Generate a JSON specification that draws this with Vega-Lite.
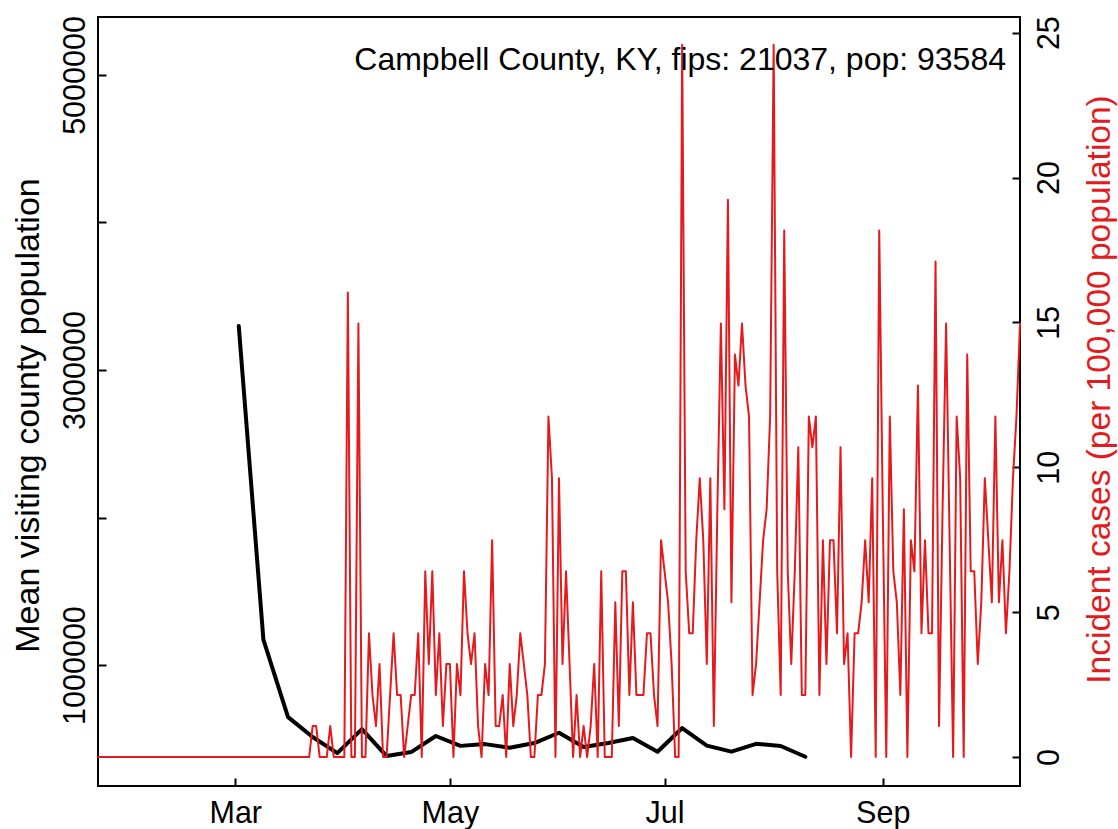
{
"$schema": "https://vega.github.io/schema/vega-lite/v6.json",
"width": 922, "height": 769,
"autosize": "none",
"padding": {"left": 98, "top": 17, "right": 98, "bottom": 43},
"background": "white",
"config": {"view": {"stroke": "black", "strokeWidth": 2}, "font": "Liberation Sans"},
"title": {"text": "Campbell County, KY, fips: 21037, pop: 93584", "orient": "top", "anchor": "end", "frame": "group",
 "offset": 0, "baseline": "alphabetic", "dx": -14, "dy": 86, "font": "Liberation Sans", "fontSize": 32, "fontWeight": "normal", "color": "black"},
"datasets": {
"mobility": [
{"date":"2020-03-02","mvp":3298000},{"date":"2020-03-09","mvp":1172000},{"date":"2020-03-16","mvp":647000},{"date":"2020-03-23","mvp":512000},
{"date":"2020-03-30","mvp":403000},{"date":"2020-04-06","mvp":566000},{"date":"2020-04-13","mvp":383000},{"date":"2020-04-20","mvp":410000},
{"date":"2020-04-27","mvp":519000},{"date":"2020-05-04","mvp":452000},{"date":"2020-05-11","mvp":464000},{"date":"2020-05-18","mvp":439000},
{"date":"2020-05-25","mvp":471000},{"date":"2020-06-01","mvp":541000},{"date":"2020-06-08","mvp":444000},{"date":"2020-06-15","mvp":471000},
{"date":"2020-06-22","mvp":505000},{"date":"2020-06-29","mvp":412000},{"date":"2020-07-06","mvp":573000},{"date":"2020-07-13","mvp":454000},
{"date":"2020-07-20","mvp":413000},{"date":"2020-07-27","mvp":466000},{"date":"2020-08-03","mvp":451000},{"date":"2020-08-10","mvp":378000}
],
"cases": [
{"date":"2020-01-22","inc":0},{"date":"2020-01-23","inc":0},{"date":"2020-01-24","inc":0},{"date":"2020-01-25","inc":0},{"date":"2020-01-26","inc":0},
{"date":"2020-01-27","inc":0},{"date":"2020-01-28","inc":0},{"date":"2020-01-29","inc":0},{"date":"2020-01-30","inc":0},{"date":"2020-01-31","inc":0},
{"date":"2020-02-01","inc":0},{"date":"2020-02-02","inc":0},{"date":"2020-02-03","inc":0},{"date":"2020-02-04","inc":0},{"date":"2020-02-05","inc":0},
{"date":"2020-02-06","inc":0},{"date":"2020-02-07","inc":0},{"date":"2020-02-08","inc":0},{"date":"2020-02-09","inc":0},{"date":"2020-02-10","inc":0},
{"date":"2020-02-11","inc":0},{"date":"2020-02-12","inc":0},{"date":"2020-02-13","inc":0},{"date":"2020-02-14","inc":0},{"date":"2020-02-15","inc":0},
{"date":"2020-02-16","inc":0},{"date":"2020-02-17","inc":0},{"date":"2020-02-18","inc":0},{"date":"2020-02-19","inc":0},{"date":"2020-02-20","inc":0},
{"date":"2020-02-21","inc":0},{"date":"2020-02-22","inc":0},{"date":"2020-02-23","inc":0},{"date":"2020-02-24","inc":0},{"date":"2020-02-25","inc":0},
{"date":"2020-02-26","inc":0},{"date":"2020-02-27","inc":0},{"date":"2020-02-28","inc":0},{"date":"2020-02-29","inc":0},
{"date":"2020-03-01","inc":0},{"date":"2020-03-02","inc":0},{"date":"2020-03-03","inc":0},{"date":"2020-03-04","inc":0},{"date":"2020-03-05","inc":0},
{"date":"2020-03-06","inc":0},{"date":"2020-03-07","inc":0},{"date":"2020-03-08","inc":0},{"date":"2020-03-09","inc":0},{"date":"2020-03-10","inc":0},
{"date":"2020-03-11","inc":0},{"date":"2020-03-12","inc":0},{"date":"2020-03-13","inc":0},{"date":"2020-03-14","inc":0},{"date":"2020-03-15","inc":0},
{"date":"2020-03-16","inc":0},{"date":"2020-03-17","inc":0},{"date":"2020-03-18","inc":0},{"date":"2020-03-19","inc":0},{"date":"2020-03-20","inc":0},
{"date":"2020-03-21","inc":0},{"date":"2020-03-22","inc":0},{"date":"2020-03-23","inc":1.07},{"date":"2020-03-24","inc":1.07},{"date":"2020-03-25","inc":0},
{"date":"2020-03-26","inc":0},{"date":"2020-03-27","inc":0},{"date":"2020-03-28","inc":1.07},{"date":"2020-03-29","inc":0},{"date":"2020-03-30","inc":0},
{"date":"2020-03-31","inc":0},
{"date":"2020-04-01","inc":0},{"date":"2020-04-02","inc":16.03},{"date":"2020-04-03","inc":0},{"date":"2020-04-04","inc":0},{"date":"2020-04-05","inc":14.96},
{"date":"2020-04-06","inc":0},{"date":"2020-04-07","inc":0},{"date":"2020-04-08","inc":4.27},{"date":"2020-04-09","inc":2.14},{"date":"2020-04-10","inc":1.07},
{"date":"2020-04-11","inc":3.21},{"date":"2020-04-12","inc":0},{"date":"2020-04-13","inc":0},{"date":"2020-04-14","inc":2.14},{"date":"2020-04-15","inc":4.27},
{"date":"2020-04-16","inc":2.14},{"date":"2020-04-17","inc":2.14},{"date":"2020-04-18","inc":0},{"date":"2020-04-19","inc":1.07},{"date":"2020-04-20","inc":2.14},
{"date":"2020-04-21","inc":2.14},{"date":"2020-04-22","inc":4.27},{"date":"2020-04-23","inc":0},{"date":"2020-04-24","inc":6.41},{"date":"2020-04-25","inc":3.21},
{"date":"2020-04-26","inc":6.41},{"date":"2020-04-27","inc":2.14},{"date":"2020-04-28","inc":4.27},{"date":"2020-04-29","inc":1.07},{"date":"2020-04-30","inc":3.21},
{"date":"2020-05-01","inc":3.21},{"date":"2020-05-02","inc":0},{"date":"2020-05-03","inc":3.21},{"date":"2020-05-04","inc":2.14},{"date":"2020-05-05","inc":6.41},
{"date":"2020-05-06","inc":4.27},{"date":"2020-05-07","inc":3.21},{"date":"2020-05-08","inc":4.27},{"date":"2020-05-09","inc":1.07},{"date":"2020-05-10","inc":0},
{"date":"2020-05-11","inc":3.21},{"date":"2020-05-12","inc":2.14},{"date":"2020-05-13","inc":7.48},{"date":"2020-05-14","inc":1.07},{"date":"2020-05-15","inc":1.07},
{"date":"2020-05-16","inc":2.14},{"date":"2020-05-17","inc":0},{"date":"2020-05-18","inc":3.21},{"date":"2020-05-19","inc":1.07},{"date":"2020-05-20","inc":2.14},
{"date":"2020-05-21","inc":4.27},{"date":"2020-05-22","inc":3.21},{"date":"2020-05-23","inc":2.14},{"date":"2020-05-24","inc":0},{"date":"2020-05-25","inc":0},
{"date":"2020-05-26","inc":2.14},{"date":"2020-05-27","inc":2.14},{"date":"2020-05-28","inc":3.21},{"date":"2020-05-29","inc":11.75},{"date":"2020-05-30","inc":9.62},
{"date":"2020-05-31","inc":0},
{"date":"2020-06-01","inc":9.62},{"date":"2020-06-02","inc":3.21},{"date":"2020-06-03","inc":6.41},{"date":"2020-06-04","inc":3.21},{"date":"2020-06-05","inc":0},
{"date":"2020-06-06","inc":2.14},{"date":"2020-06-07","inc":0},{"date":"2020-06-08","inc":1.07},{"date":"2020-06-09","inc":0},{"date":"2020-06-10","inc":1.07},
{"date":"2020-06-11","inc":3.21},{"date":"2020-06-12","inc":0},{"date":"2020-06-13","inc":6.41},{"date":"2020-06-14","inc":0},{"date":"2020-06-15","inc":0},
{"date":"2020-06-16","inc":0},{"date":"2020-06-17","inc":5.34},{"date":"2020-06-18","inc":1.07},{"date":"2020-06-19","inc":6.41},{"date":"2020-06-20","inc":6.41},
{"date":"2020-06-21","inc":2.14},{"date":"2020-06-22","inc":5.34},{"date":"2020-06-23","inc":2.14},{"date":"2020-06-24","inc":2.14},{"date":"2020-06-25","inc":2.14},
{"date":"2020-06-26","inc":4.27},{"date":"2020-06-27","inc":4.27},{"date":"2020-06-28","inc":2.14},{"date":"2020-06-29","inc":1.07},{"date":"2020-06-30","inc":7.48},
{"date":"2020-07-01","inc":6.41},{"date":"2020-07-02","inc":5.34},{"date":"2020-07-03","inc":3.21},{"date":"2020-07-04","inc":0},{"date":"2020-07-05","inc":0},
{"date":"2020-07-06","inc":24.58},{"date":"2020-07-07","inc":6.41},{"date":"2020-07-08","inc":4.27},{"date":"2020-07-09","inc":4.27},{"date":"2020-07-10","inc":7.48},
{"date":"2020-07-11","inc":9.62},{"date":"2020-07-12","inc":7.48},{"date":"2020-07-13","inc":3.21},{"date":"2020-07-14","inc":9.62},{"date":"2020-07-15","inc":1.07},
{"date":"2020-07-16","inc":8.55},{"date":"2020-07-17","inc":14.96},{"date":"2020-07-18","inc":8.55},{"date":"2020-07-19","inc":19.23},{"date":"2020-07-20","inc":5.34},
{"date":"2020-07-21","inc":13.89},{"date":"2020-07-22","inc":12.82},{"date":"2020-07-23","inc":14.96},{"date":"2020-07-24","inc":12.82},{"date":"2020-07-25","inc":11.75},
{"date":"2020-07-26","inc":2.14},{"date":"2020-07-27","inc":3.21},{"date":"2020-07-28","inc":5.34},{"date":"2020-07-29","inc":7.48},{"date":"2020-07-30","inc":8.55},
{"date":"2020-07-31","inc":11.75},
{"date":"2020-08-01","inc":24.58},{"date":"2020-08-02","inc":6.41},{"date":"2020-08-03","inc":2.14},{"date":"2020-08-04","inc":18.17},{"date":"2020-08-05","inc":6.41},
{"date":"2020-08-06","inc":3.21},{"date":"2020-08-07","inc":6.41},{"date":"2020-08-08","inc":10.69},{"date":"2020-08-09","inc":2.14},{"date":"2020-08-10","inc":2.14},
{"date":"2020-08-11","inc":11.75},{"date":"2020-08-12","inc":10.69},{"date":"2020-08-13","inc":11.75},{"date":"2020-08-14","inc":2.14},{"date":"2020-08-15","inc":7.48},
{"date":"2020-08-16","inc":3.21},{"date":"2020-08-17","inc":7.48},{"date":"2020-08-18","inc":7.48},{"date":"2020-08-19","inc":4.27},{"date":"2020-08-20","inc":10.69},
{"date":"2020-08-21","inc":3.21},{"date":"2020-08-22","inc":4.27},{"date":"2020-08-23","inc":0},{"date":"2020-08-24","inc":4.27},{"date":"2020-08-25","inc":4.27},
{"date":"2020-08-26","inc":5.34},{"date":"2020-08-27","inc":7.48},{"date":"2020-08-28","inc":5.34},{"date":"2020-08-29","inc":9.62},{"date":"2020-08-30","inc":0},
{"date":"2020-08-31","inc":18.17},
{"date":"2020-09-01","inc":8.55},{"date":"2020-09-02","inc":0},{"date":"2020-09-03","inc":11.75},{"date":"2020-09-04","inc":6.41},{"date":"2020-09-05","inc":5.34},
{"date":"2020-09-06","inc":2.14},{"date":"2020-09-07","inc":8.55},{"date":"2020-09-08","inc":0},{"date":"2020-09-09","inc":7.48},{"date":"2020-09-10","inc":6.41},
{"date":"2020-09-11","inc":12.82},{"date":"2020-09-12","inc":4.27},{"date":"2020-09-13","inc":7.48},{"date":"2020-09-14","inc":4.27},{"date":"2020-09-15","inc":4.27},
{"date":"2020-09-16","inc":17.1},{"date":"2020-09-17","inc":1.07},{"date":"2020-09-18","inc":8.55},{"date":"2020-09-19","inc":14.96},{"date":"2020-09-20","inc":7.48},
{"date":"2020-09-21","inc":0},{"date":"2020-09-22","inc":11.75},{"date":"2020-09-23","inc":9.62},{"date":"2020-09-24","inc":0},{"date":"2020-09-25","inc":13.89},
{"date":"2020-09-26","inc":6.41},{"date":"2020-09-27","inc":6.41},{"date":"2020-09-28","inc":3.21},{"date":"2020-09-29","inc":5.34},{"date":"2020-09-30","inc":9.62},
{"date":"2020-10-01","inc":7.48},{"date":"2020-10-02","inc":5.34},{"date":"2020-10-03","inc":11.75},{"date":"2020-10-04","inc":5.34},{"date":"2020-10-05","inc":7.48},
{"date":"2020-10-06","inc":4.27},{"date":"2020-10-07","inc":6.41},{"date":"2020-10-08","inc":9.62},{"date":"2020-10-09","inc":11.75},{"date":"2020-10-10","inc":14.96}
]
},
"encoding": {
"x": {"field": "date", "type": "temporal",
 "scale": {"type": "utc", "nice": false, "domain": [{"year":2020,"month":1,"date":22,"utc":true},{"year":2020,"month":10,"date":10,"utc":true}]},
 "axis": {"values": [{"year":2020,"month":3,"date":1,"utc":true},{"year":2020,"month":5,"date":1,"utc":true},{"year":2020,"month":7,"date":1,"utc":true},{"year":2020,"month":9,"date":1,"utc":true}],
  "labelExpr": "utcFormat(datum.value, '%b')", "labelFont": "Liberation Sans", "labelFontSize": 30.5, "labelColor": "black", "labelPadding": 44,
  "labelBaseline": "alphabetic", "labelAlign": "center", "labelAngle": 0, "labelFlush": false, "labelOverlap": false,
  "tickSize": -8, "tickWidth": 2, "tickColor": "black", "domain": false, "grid": false, "title": null}}
},
"layer": [
{"data": {"name": "mobility"},
 "mark": {"type": "line", "color": "black", "strokeWidth": 4, "strokeCap": "round", "strokeJoin": "round"},
 "encoding": {"y": {"field": "mvp", "type": "quantitative",
  "scale": {"domain": [180000, 5393000], "nice": false, "zero": false},
  "axis": {"orient": "left", "values": [1000000, 2000000, 3000000, 4000000, 5000000],
   "labelExpr": "datum.value == 2000000 || datum.value == 4000000 ? '' : format(datum.value, 'd')",
   "labelAngle": -90, "labelAlign": "center", "labelBaseline": "alphabetic", "labelFont": "Liberation Sans", "labelFontSize": 30.5,
   "labelColor": "black", "labelPadding": 22, "labelOverlap": false, "labelFlush": false,
   "tickSize": -8, "tickWidth": 2, "tickColor": "black", "domain": false, "grid": false,
   "title": "Mean visiting county population", "titleFont": "Liberation Sans", "titleFontSize": 34, "titleFontWeight": "normal",
   "titleColor": "black", "titleAngle": -90, "titleBaseline": "alphabetic", "titleAlign": "center", "titleX": -60, "titleY": 398}}}},
{"data": {"name": "cases"},
 "mark": {"type": "line", "color": "#E41A1C", "strokeWidth": 2, "strokeCap": "round", "strokeJoin": "round"},
 "encoding": {"y": {"field": "inc", "type": "quantitative",
  "scale": {"domain": [-1.0, 25.54], "nice": false, "zero": false},
  "axis": {"orient": "right", "values": [0, 5, 10, 15, 20, 25], "format": "d",
   "labelAngle": -90, "labelAlign": "center", "labelBaseline": "alphabetic", "labelFont": "Liberation Sans", "labelFontSize": 30.5,
   "labelColor": "black", "labelPadding": 46, "labelOverlap": false, "labelFlush": false,
   "tickSize": -8, "tickWidth": 2, "tickColor": "black", "domain": false, "grid": false,
   "title": "Incident cases (per 100,000 population)", "titleFont": "Liberation Sans", "titleFontSize": 33.5, "titleFontWeight": "normal",
   "titleColor": "#E41A1C", "titleAngle": -90, "titleBaseline": "alphabetic", "titleAlign": "center", "titleX": 89, "titleY": 372}}}}
],
"resolve": {"scale": {"y": "independent"}}
}
